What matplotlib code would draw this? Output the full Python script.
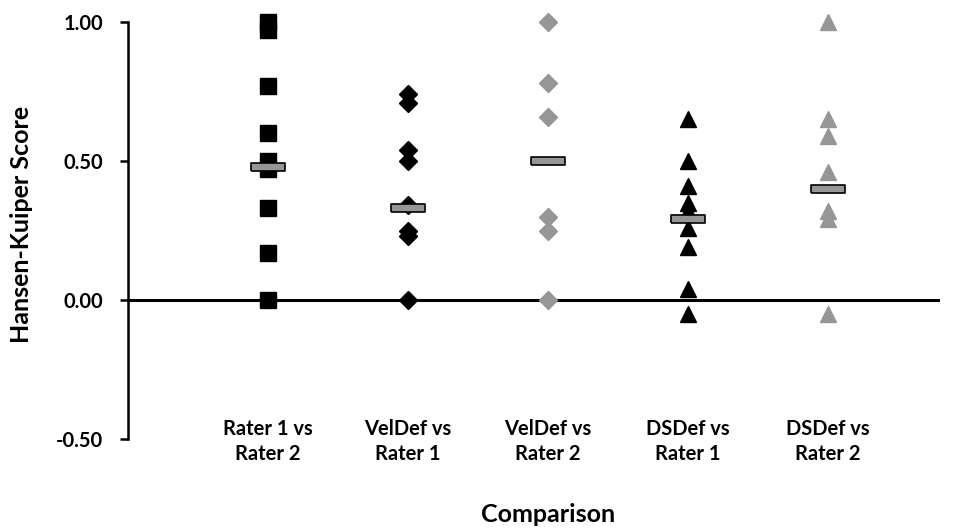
import matplotlib
matplotlib.use('Agg')
import matplotlib.pyplot as plt
from matplotlib.transforms import blended_transform_factory

# === Данные ===
categories = ['Rater 1 vs\nRater 2', 'VelDef vs\nRater 1', 'VelDef vs\nRater 2',
              'DSDef vs\nRater 1', 'DSDef vs\nRater 2']

rater1_vs_rater2 = [1.00, 0.97, 0.77, 0.60, 0.50, 0.47, 0.33, 0.17, 0.00]
veldef_vs_rater1 = [0.74, 0.71, 0.54, 0.50, 0.34, 0.25, 0.23, 0.00]
veldef_vs_rater2 = [1.00, 0.78, 0.66, 0.30, 0.25, 0.00]
dsdef_vs_rater1 = [0.65, 0.50, 0.41, 0.35, 0.32, 0.26, 0.19, 0.04, -0.05]
dsdef_vs_rater2 = [1.00, 0.65, 0.59, 0.46, 0.32, 0.29, -0.05]
medians = [0.48, 0.33, 0.50, 0.29, 0.40]

series = [rater1_vs_rater2, veldef_vs_rater1, veldef_vs_rater2, dsdef_vs_rater1, dsdef_vs_rater2]
markers = ['s', 'D', 'D', '^', '^']
colors = ['black', 'black', '#969696', 'black', '#969696']
sizes = [12, 9, 9, 12, 12]

FONT = 'Lato'

fig = plt.figure(figsize=(9.57, 5.30), dpi=100)
ax = fig.add_axes([128 / 957, 1 - 439 / 530, (940 - 128) / 957, (439 - 22) / 530])

for i, vals in enumerate(series):
    x = [i + 1] * len(vals)
    ax.plot(x, vals, linestyle='none', marker=markers[i], color=colors[i],
            markersize=sizes[i], clip_on=False, zorder=3)

# медианы - серые прямоугольники
bar = [(-2, -0.45), (2, -0.45), (2, 0.45), (-2, 0.45), (-2, -0.45)]
ax.plot(range(1, 6), medians, linestyle='none', marker=bar, markersize=24.5,
        markerfacecolor='#969696', markeredgecolor='black', markeredgewidth=1.2,
        zorder=4)

ax.set_xlim(0, 5.8)
ax.set_ylim(-0.5, 1.0)
ax.set_yticks([-0.5, 0, 0.5, 1.0])
ax.set_yticklabels(['-0.50', '0.00', '0.50', '1.00'], fontsize=14.5, fontweight='bold',
                   family=FONT)
ax.tick_params(axis='y', direction='out', length=6, width=1.8, pad=12)
ax.set_xticks([])

for s in ['top', 'right', 'bottom']:
    ax.spines[s].set_visible(False)
ax.spines['left'].set_linewidth(1.8)
ax.axhline(0, color='black', linewidth=2.2, zorder=2)

trans = blended_transform_factory(ax.transData, ax.transAxes)
for i, c in enumerate(categories):
    ax.text(i + 1, -0.006, c, transform=trans, ha='center', va='center',
            fontsize=14.5, fontweight='bold', family=FONT, linespacing=1.3)

fig.text(548 / 957, 1 - 514 / 530, 'Comparison', ha='center', va='center',
         fontsize=18, fontweight='bold', family=FONT)
fig.text(22 / 957, 1 - 224 / 530, 'Hansen-Kuiper Score', ha='center', va='center',
         rotation=90, fontsize=18, fontweight='bold', family=FONT)

fig.savefig('out.png', dpi=100)
